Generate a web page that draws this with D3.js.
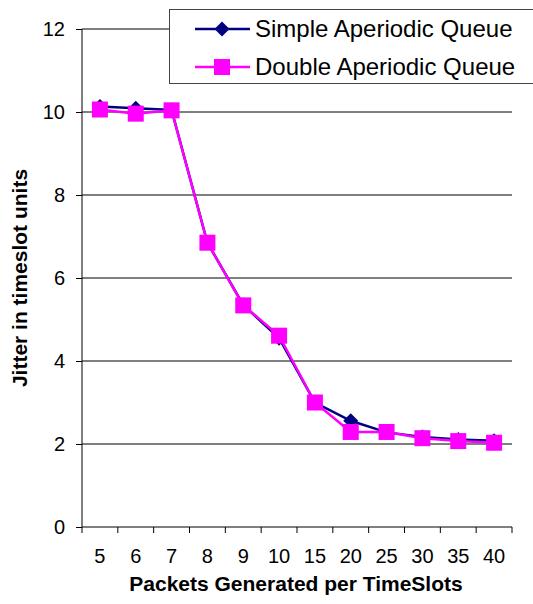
<!DOCTYPE html>
<html>
<head>
<meta charset="utf-8">
<script src="https://cdn.jsdelivr.net/npm/d3@7"></script>
<style>
  body { margin: 0; background: #fff; }
  svg { font-family: Arial, "Liberation Sans", sans-serif; }
</style>
</head>
<body>
<div id="chart"></div>
<script>
// categories on the x axis
const packets = ["5", "6", "7", "8", "9", "10", "15", "20", "25", "30", "35", "40"];
// jitter values per series
const simpleQueue = [10.13, 10.09, 10.05, 6.85, 5.35, 4.55, 3.0, 2.56, 2.28, 2.17, 2.11, 2.08];
const doubleQueue = [10.06, 9.96, 10.04, 6.85, 5.34, 4.61, 3.0, 2.29, 2.29, 2.14, 2.07, 2.03];
const yTicks = [0, 2, 4, 6, 8, 10, 12];

const width = 533, height = 604;
const margin = {top: 29, right: 21, bottom: 77, left: 82};
const fontFam = "Arial, 'Liberation Sans', sans-serif";

const svg = d3.select("#chart").append("svg")
  .attr("width", width)
  .attr("height", height);

const x = d3.scaleBand()
  .domain(packets)
  .range([margin.left, width - margin.right]);

const y = d3.scaleLinear()
  .domain([0, 12])
  .range([height - margin.bottom, margin.top]);

// square diamond marker
const diamond = r => `M0,${-r}L${r},0L0,${r}L${-r},0Z`;

// gridlines
svg.append("g").selectAll("line")
  .data(yTicks.filter(d => d > 0))
  .enter().append("line")
  .attr("x1", margin.left)
  .attr("x2", width - margin.right)
  .attr("y1", d => y(d))
  .attr("y2", d => y(d))
  .attr("stroke", "#000")
  .attr("stroke-width", 1);

// y axis
const yAxis = svg.append("g")
  .attr("transform", `translate(${margin.left},0)`)
  .call(d3.axisLeft(y).tickValues(yTicks).tickSize(6).tickPadding(11));
yAxis.selectAll("text").attr("font-size", 20).attr("fill", "#000").attr("font-family", fontFam);
yAxis.selectAll("line, path").attr("stroke", "#000");
yAxis.select(".domain").attr("d", `M0,${y(12)}V${y(0)}`);

// x axis: ticks at band boundaries
const xAxisG = svg.append("g")
  .attr("transform", `translate(0,${y(0)})`);
xAxisG.append("line")
  .attr("x1", margin.left).attr("x2", width - margin.right)
  .attr("y1", 0).attr("y2", 0)
  .attr("stroke", "#000");
const bounds = packets.map(p => x(p)).concat([x(packets[packets.length - 1]) + x.bandwidth()]);
xAxisG.selectAll("line.tick")
  .data(bounds)
  .enter().append("line")
  .attr("class", "tick")
  .attr("x1", d => d).attr("x2", d => d)
  .attr("y1", 0).attr("y2", 6)
  .attr("stroke", "#000");
xAxisG.selectAll("text")
  .data(packets)
  .enter().append("text")
  .attr("x", d => x(d) + x.bandwidth() / 2)
  .attr("y", 36)
  .attr("text-anchor", "middle")
  .attr("font-size", 20)
  .text(d => d);

// axis titles
svg.append("text")
  .attr("x", 296)
  .attr("y", 591)
  .attr("text-anchor", "middle")
  .attr("font-size", 21)
  .attr("font-weight", "bold")
  .text("Packets Generated per TimeSlots");

svg.append("text")
  .attr("transform", `translate(27,278) rotate(-90)`)
  .attr("text-anchor", "middle")
  .attr("font-size", 21)
  .attr("font-weight", "bold")
  .text("Jitter in timeslot units");

const line = d3.line()
  .x((d, i) => x(packets[i]) + x.bandwidth() / 2)
  .y(d => y(d));

// simple series
svg.append("path")
  .datum(simpleQueue)
  .attr("d", line)
  .attr("fill", "none")
  .attr("stroke", "#000080")
  .attr("stroke-width", 2.5);
svg.append("g").selectAll("path")
  .data(simpleQueue)
  .enter().append("path")
  .attr("d", diamond(7.5))
  .attr("transform", (d, i) => `translate(${x(packets[i]) + x.bandwidth() / 2},${y(d)})`)
  .attr("fill", "#000080");

// double series
svg.append("path")
  .datum(doubleQueue)
  .attr("d", line)
  .attr("fill", "none")
  .attr("stroke", "#ff00ff")
  .attr("stroke-width", 2.5);
svg.append("g").selectAll("rect")
  .data(doubleQueue)
  .enter().append("rect")
  .attr("x", (d, i) => x(packets[i]) + x.bandwidth() / 2 - 8)
  .attr("y", d => y(d) - 8)
  .attr("width", 16)
  .attr("height", 16)
  .attr("fill", "#ff00ff");

// legend
const legend = svg.append("g");
legend.append("rect")
  .attr("x", 169.5).attr("y", 9.5)
  .attr("width", 370).attr("height", 74)
  .attr("fill", "#fff")
  .attr("stroke", "#444");
const items = [
  {name: "Simple Aperiodic Queue", color: "#000080", shape: "diamond", y: 29},
  {name: "Double Aperiodic Queue", color: "#ff00ff", shape: "square", y: 67}
];
items.forEach(it => {
  legend.append("line")
    .attr("x1", 195).attr("x2", 250)
    .attr("y1", it.y).attr("y2", it.y)
    .attr("stroke", it.color).attr("stroke-width", 2.5);
  if (it.shape === "diamond") {
    legend.append("path")
      .attr("d", diamond(7.5))
      .attr("transform", `translate(222,${it.y})`)
      .attr("fill", it.color);
  } else {
    legend.append("rect")
      .attr("x", 214).attr("y", it.y - 8)
      .attr("width", 16).attr("height", 16)
      .attr("fill", it.color);
  }
  legend.append("text")
    .attr("x", 255).attr("y", it.y + 8)
    .attr("font-size", 24)
    .text(it.name);
});
</script>
</body>
</html>
